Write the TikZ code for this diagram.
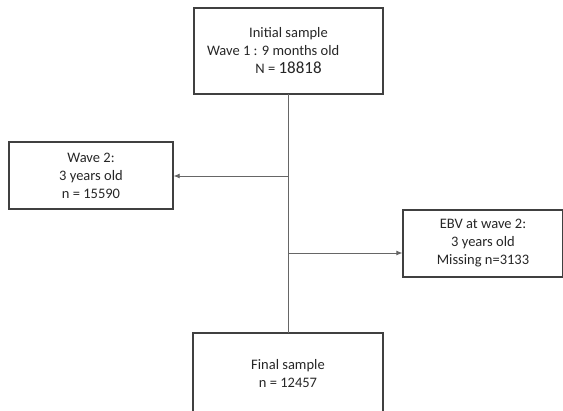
\documentclass[tikz,border=0pt]{standalone}
\usepackage{fontspec}
\setmainfont{Carlito}
\usetikzlibrary{arrows.meta}
\begin{document}
\begin{tikzpicture}[x=1pt,y=-1pt,
  box/.style={draw=black!75,line width=1.3pt,inner sep=0pt,align=center,
    font=\fontsize{14.5}{18}\selectfont,text=black!85},
  conn/.style={draw=black!60,line width=0.8pt},
  arr/.style={conn,-{Latex[length=6pt,width=5pt]}}]
\useasboundingbox (0,0) rectangle (563,411);
\clip (0,0) rectangle (563,411);
\node[box,minimum width=189pt,minimum height=86pt] (init) at (288.5,51)
  {Initial sample\\\makebox[132pt][l]{\hspace{-15.5pt}Wave 1 : 9 months old}\\N = {\fontsize{17}{18}\selectfont 18818}};
\node[box,minimum width=164pt,minimum height=67pt] (w2) at (91,175.5)
  {Wave 2:\\3 years old\\n = 15590};
\node[box,minimum width=160pt,minimum height=67pt] (ebv) at (483,243.5)
  {EBV at wave 2:\\3 years old\\Missing n=3133};
\node[box,minimum width=190pt,minimum height=100pt] (fin) at (288,383) {};
\node[font=\fontsize{14.5}{18}\selectfont,text=black!85,align=center] (fintext) at (288,374)
  {Final sample\\n = 12457};
\coordinate (top) at (288,94);
\coordinate (bot) at (288,333);
\coordinate (jl) at (288,176);
\coordinate (jr) at (288,253);
\draw[conn] (top) -- (bot);
\draw[arr] (jl) -- (w2.east |- jl);
\draw[arr] (jr) -- (ebv.west |- jr);
\end{tikzpicture}
\end{document}
